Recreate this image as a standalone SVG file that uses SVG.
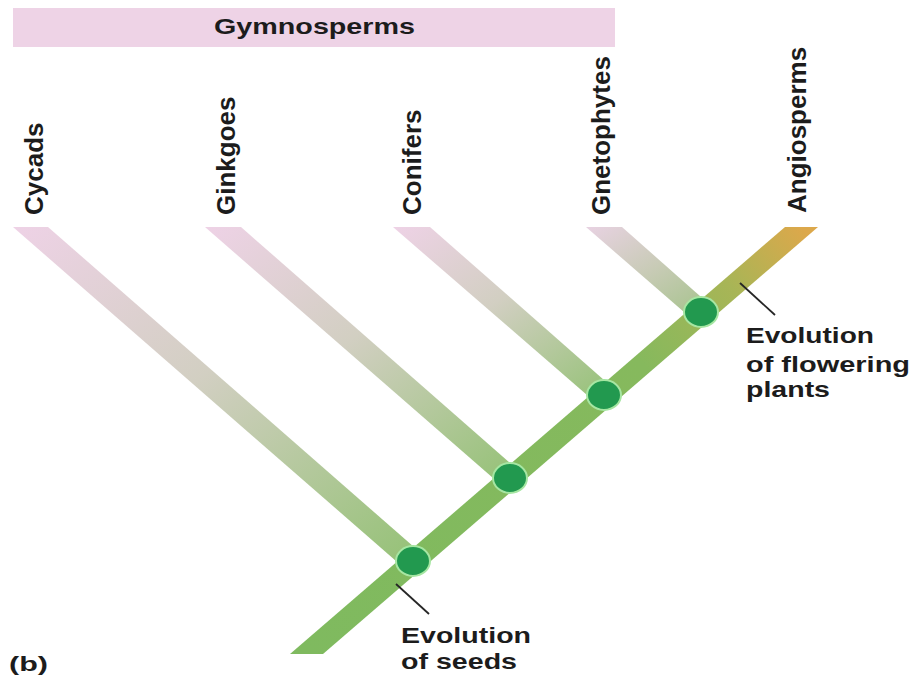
<svg xmlns="http://www.w3.org/2000/svg" width="918" height="682" viewBox="0 0 918 682">
  <defs>
    <style>
      .lbl { font-family: "Liberation Sans", Arial, Helvetica, sans-serif; font-weight: bold; fill: #1c1c1c; }
      .tax { font-size: 26px; }
      .note { font-size: 22px; }
      .node { fill: #22994f; stroke: #a6e6a2; stroke-width: 2; }
      .leader { stroke: #262626; stroke-width: 1.8; fill: none; }
    </style>
    <linearGradient id="branchGrad" x1="0" y1="0" x2="1" y2="1">
      <stop offset="0" stop-color="#eed2e6"/>
      <stop offset="0.45" stop-color="#d2cfc2"/>
      <stop offset="1" stop-color="#93c174"/>
    </linearGradient>
    <linearGradient id="branchGradShort" x1="0" y1="0" x2="1" y2="1">
      <stop offset="0" stop-color="#e8d2e2"/>
      <stop offset="0.5" stop-color="#c8cbb6"/>
      <stop offset="1" stop-color="#a3c289"/>
    </linearGradient>
    <linearGradient id="trunkGrad" gradientUnits="userSpaceOnUse" x1="306" y1="654" x2="801" y2="227">
      <stop offset="0" stop-color="#7fba5f"/>
      <stop offset="0.68" stop-color="#86b95d"/>
      <stop offset="0.86" stop-color="#a8b556"/>
      <stop offset="1" stop-color="#dca84b"/>
    </linearGradient>
  </defs>

  <rect width="918" height="682" fill="#ffffff"/>

  <g id="gymnosperms-bar">
    <rect x="13" y="8" width="602" height="39" fill="#eed3e6"/>
    <text class="lbl note" x="214" y="34" textLength="201" lengthAdjust="spacingAndGlyphs">Gymnosperms</text>
  </g>

  <g id="connectors">
    <polygon points="13,227 48,227 430,561 396,561" fill="url(#branchGrad)"/>
    <polygon points="205,227 241,227 527,478 493,478" fill="url(#branchGrad)"/>
    <polygon points="393,227 430,227 621,395 587,395" fill="url(#branchGrad)"/>
    <polygon points="586,227 622,227 718,312 684,312" fill="url(#branchGradShort)"/>
    <polygon points="290,654 323,654 818,227 785,227" fill="url(#trunkGrad)"/>
    <line class="leader" x1="740" y1="283" x2="775" y2="315"/>
    <line class="leader" x1="396" y1="584" x2="429" y2="614"/>
  </g>

  <g id="taxon-cycads">
    <text class="lbl tax" transform="translate(43,215) rotate(-90)">Cycads</text>
  </g>
  <g id="taxon-ginkgoes">
    <text class="lbl tax" transform="translate(235,215) rotate(-90)">Ginkgoes</text>
  </g>
  <g id="taxon-conifers">
    <text class="lbl tax" transform="translate(421,215) rotate(-90)">Conifers</text>
  </g>
  <g id="taxon-gnetophytes">
    <text class="lbl tax" transform="translate(610,215) rotate(-90)">Gnetophytes</text>
  </g>
  <g id="taxon-angiosperms">
    <text class="lbl tax" transform="translate(806,213) rotate(-90)">Angiosperms</text>
  </g>

  <g id="node-seeds">
    <ellipse class="node" cx="413" cy="561" rx="17" ry="15"/>
  </g>
  <g id="node-ginkgoes">
    <ellipse class="node" cx="510" cy="478" rx="17" ry="15"/>
  </g>
  <g id="node-conifers">
    <ellipse class="node" cx="604" cy="395" rx="17" ry="15"/>
  </g>
  <g id="node-flowering">
    <ellipse class="node" cx="701" cy="312" rx="17" ry="15"/>
  </g>

  <g id="label-flowering">
    <text class="lbl note" x="746" y="343" textLength="128" lengthAdjust="spacingAndGlyphs">Evolution</text>
    <text class="lbl note" x="746" y="372" textLength="164" lengthAdjust="spacingAndGlyphs">of flowering</text>
    <text class="lbl note" x="746" y="397" textLength="84" lengthAdjust="spacingAndGlyphs">plants</text>
  </g>
  <g id="label-seeds">
    <text class="lbl note" x="401" y="643" textLength="130" lengthAdjust="spacingAndGlyphs">Evolution</text>
    <text class="lbl note" x="401" y="669" textLength="116" lengthAdjust="spacingAndGlyphs">of seeds</text>
  </g>
  <g id="panel-label">
    <text class="lbl" x="9" y="671" font-size="20" textLength="39" lengthAdjust="spacingAndGlyphs">(b)</text>
  </g>
</svg>
